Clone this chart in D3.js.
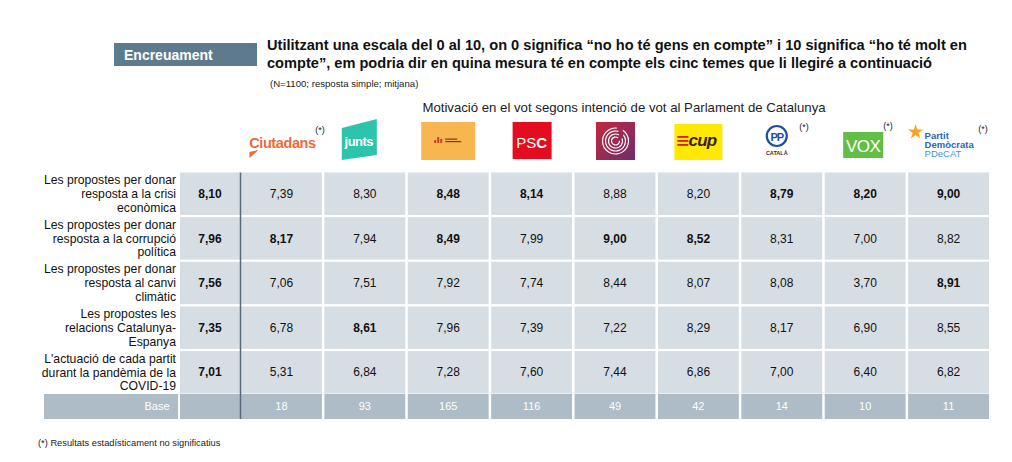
<!DOCTYPE html>
<html>
<head>
<meta charset="utf-8">
<script src="https://cdn.jsdelivr.net/npm/d3@7"></script>
<style>
  html, body { margin: 0; padding: 0; background: #fff; }
  svg { display: block; font-family: "Liberation Sans", Arial, sans-serif; }
</style>
</head>
<body>
<svg id="chart" width="1012" height="462"></svg>
<script>
// ---------- DATA ----------
const parties = ["Ciutadans", "Junts", "ERC", "PSC", "Comuns", "CUP", "PP", "VOX", "PDeCAT"];
const notSignificant = [true, false, false, false, false, false, true, true, true];
const themes = [
  ["Les propostes per donar", "resposta a la crisi", "econòmica"],
  ["Les propostes per donar", "resposta a la corrupció", "política"],
  ["Les propostes per donar", "resposta al canvi", "climàtic"],
  ["Les propostes les", "relacions Catalunya-", "Espanya"],
  ["L'actuació de cada partit", "durant la pandèmia de la", "COVID-19"]
];
const totals = [8.10, 7.96, 7.56, 7.35, 7.01];
const valuesCrisi      = [7.39, 8.30, 8.48, 8.14, 8.88, 8.20, 8.79, 8.20, 9.00];
const valuesCorrupcio  = [8.17, 7.94, 8.49, 7.99, 9.00, 8.52, 8.31, 7.00, 8.82];
const valuesClima      = [7.06, 7.51, 7.92, 7.74, 8.44, 8.07, 8.08, 3.70, 8.91];
const valuesCatEsp     = [6.78, 8.61, 7.96, 7.39, 7.22, 8.29, 8.17, 6.90, 8.55];
const valuesCovid      = [5.31, 6.84, 7.28, 7.60, 7.44, 6.86, 7.00, 6.40, 6.82];
const highlightCrisi     = [0, 0, 1, 1, 0, 0, 1, 1, 1];
const highlightCorrupcio = [1, 0, 1, 0, 1, 1, 0, 0, 0];
const highlightClima     = [0, 0, 0, 0, 0, 0, 0, 0, 1];
const highlightCatEsp    = [0, 1, 0, 0, 0, 0, 0, 0, 0];
const highlightCovid     = [0, 0, 0, 0, 0, 0, 0, 0, 0];
const base = [18, 93, 165, 116, 49, 42, 14, 10, 11];
const baseLabel = "Base";
const sectionLabel = "Encreuament";
const titleLines = [
  "Utilitzant una escala del 0 al 10, on 0 significa “no ho té gens en compte” i 10 significa “ho té molt en",
  "compte”, em podria dir en quina mesura té en compte els cinc temes que li llegiré a continuació"
];
const subtitle = "(N=1100; resposta simple; mitjana)";
const headerLabel = "Motivació en el vot segons intenció de vot al Parlament de Catalunya";
const footnote = "(*) Resultats estadísticament no significatius";

const values = [valuesCrisi, valuesCorrupcio, valuesClima, valuesCatEsp, valuesCovid];
const highlights = [highlightCrisi, highlightCorrupcio, highlightClima, highlightCatEsp, highlightCovid];

// ---------- SETUP ----------
const svg = d3.select("#chart");
const fmt = v => d3.format(".2f")(v).replace(".", ",");

const CELL = "#d6dee3", BASEC = "#adbcc6", DARK = "#56687a";

const x = d3.scaleBand().domain(parties).range([241, 989]).paddingInner(0.03);
const xTotal = d3.scaleBand().domain(["Total"]).range([180, 240]);
const y = d3.scaleBand().domain(d3.range(themes.length)).range([172.5, 393.5]).paddingInner(0.05);
const baseTop = 394, baseBottom = 419;

// ---------- HEADER ----------
svg.append("rect").attr("x", 114).attr("y", 43).attr("width", 143).attr("height", 23).attr("fill", "#5e7b8e");
svg.append("text").attr("x", 124).attr("y", 60).attr("fill", "#fff").attr("font-weight", "bold")
  .attr("font-size", 14).text(sectionLabel);

svg.selectAll("text.title").data(titleLines).join("text").attr("class", "title")
  .attr("x", 267).attr("y", (d, i) => 50 + i * 18)
  .attr("font-size", 14.6).attr("font-weight", "bold").attr("fill", "#111").text(d => d);

svg.append("text").attr("x", 270).attr("y", 87).attr("font-size", 9.6).attr("fill", "#222").text(subtitle);

svg.append("text").attr("x", 624).attr("y", 112).attr("text-anchor", "middle")
  .attr("font-size", 13.2).attr("fill", "#222").text(headerLabel);

// ---------- LOGOS ----------
const logos = svg.append("g");
function logo(name, draw) {
  const g = logos.append("g").attr("transform", `translate(${x(name) + x.bandwidth() / 2},0)`);
  draw(g);
}
logo("Ciutadans", g => {
  g.append("text").attr("x", 1).attr("y", 148).attr("text-anchor", "middle").attr("font-size", 14.5)
    .attr("font-weight", "bold").attr("fill", "#ec6a3a").attr("letter-spacing", -0.4).text("Ciutadans");
  g.append("path").attr("d", "M-32,152 L-23,150 L-32,158 Z").attr("fill", "#ec6a3a");
});
logo("Junts", g => {
  g.append("path").attr("d", "M-23,128 L12,119 L12,155 L-23,160 Z").attr("fill", "#2cc4ad");
  g.append("text").attr("x", -6).attr("y", 146).attr("text-anchor", "middle").attr("font-size", 13)
    .attr("font-weight", "bold").attr("fill", "#fff").attr("letter-spacing", -0.5).text("junts");
});
logo("ERC", g => {
  g.append("rect").attr("x", -27).attr("y", 122).attr("width", 54).attr("height", 38).attr("fill", "#f8b650");
  [[-14, 3], [-11, 6], [-8, 4]].forEach(([dx, h]) =>
    g.append("rect").attr("x", dx).attr("y", 143 - h).attr("width", 2).attr("height", h).attr("fill", "#c8431c"));
  g.append("rect").attr("x", -3).attr("y", 138.5).attr("width", 12).attr("height", 1.2).attr("fill", "#7a3a1c");
  g.append("rect").attr("x", -3).attr("y", 141).attr("width", 16).attr("height", 1.2).attr("fill", "#7a3a1c");
});
logo("PSC", g => {
  g.append("rect").attr("x", -19).attr("y", 122).attr("width", 39).attr("height", 37).attr("fill", "#e30d1f");
  const t = g.append("text").attr("x", 0).attr("y", 148).attr("text-anchor", "middle").attr("font-size", 15).attr("fill", "#fff");
  t.append("tspan").text("PS");
  t.append("tspan").attr("font-weight", "bold").text("C");
});
logo("Comuns", g => {
  const defs = svg.append("defs");
  const lg = defs.append("linearGradient").attr("id", "comunsGrad").attr("x1", 0).attr("y1", 0).attr("x2", 1).attr("y2", 1);
  lg.append("stop").attr("offset", "0%").attr("stop-color", "#c4283a");
  lg.append("stop").attr("offset", "100%").attr("stop-color", "#6e2d6c");
  g.append("rect").attr("x", -19).attr("y", 122).attr("width", 39).attr("height", 38).attr("fill", "url(#comunsGrad)");
  const arc = d3.arc();
  [13, 10, 7, 4].forEach((r, i) => {
    g.append("path").attr("transform", "translate(0.5,141)")
      .attr("d", arc({ innerRadius: r - 0.6, outerRadius: r + 0.6, startAngle: 0.6 + i * 0.3, endAngle: 2 * Math.PI + 0.1 + i * 0.2 }))
      .attr("fill", "#fff");
  });
});
logo("CUP", g => {
  g.append("rect").attr("x", -24).attr("y", 124).attr("width", 48).attr("height", 36).attr("fill", "#ffe900");
  [136, 140, 144].forEach(yy => g.append("rect").attr("x", -21).attr("y", yy).attr("width", 11).attr("height", 1.8).attr("fill", "#d0202a"));
  g.append("text").attr("x", 4).attr("y", 146).attr("text-anchor", "middle").attr("font-size", 17)
    .attr("font-weight", "bold").attr("font-style", "italic").attr("fill", "#3a1f1c").attr("letter-spacing", -0.8).text("cup");
});
logo("PP", g => {
  g.append("circle").attr("cx", -5).attr("cy", 136).attr("r", 10).attr("fill", "#fff").attr("stroke", "#1d4f9b").attr("stroke-width", 2.2);
  g.append("text").attr("x", -5).attr("y", 140.5).attr("text-anchor", "middle").attr("font-size", 11)
    .attr("font-weight", "bold").attr("fill", "#1d4f9b").attr("letter-spacing", -1).text("PP");
  g.append("text").attr("x", -5).attr("y", 155).attr("text-anchor", "middle").attr("font-size", 5.5)
    .attr("font-weight", "bold").attr("fill", "#333").text("CATALÀ");
});
logo("VOX", g => {
  g.append("rect").attr("x", -22).attr("y", 132).attr("width", 40).attr("height", 26).attr("fill", "#63be45");
  g.append("text").attr("x", -2).attr("y", 152).attr("text-anchor", "middle").attr("font-size", 17)
    .attr("fill", "#fff").attr("letter-spacing", -0.5).text("VOX");
});
logo("PDeCAT", g => {
  const star = d3.symbol().type(d3.symbolStar).size(70);
  g.append("path").attr("transform", "translate(-33,132)").attr("d", star()).attr("fill", "#f6a623");
  g.append("text").attr("x", -24).attr("y", 139).attr("font-size", 9.5).attr("font-weight", "bold").attr("fill", "#2a67b5").text("Partit");
  g.append("text").attr("x", -24).attr("y", 148).attr("font-size", 9.5).attr("font-weight", "bold").attr("fill", "#2a67b5").text("Demòcrata");
  g.append("text").attr("x", -24).attr("y", 157).attr("font-size", 9.5).attr("fill", "#4b93d6").text("PDeCAT");
});
// (*) marks
const starX = { Ciutadans: 320, PP: 804, VOX: 888, PDeCAT: 983 };
const starY = { Ciutadans: 133, PP: 130, VOX: 129, PDeCAT: 132 };
svg.selectAll("text.ns").data(parties.filter((p, i) => notSignificant[i])).join("text").attr("class", "ns")
  .attr("x", d => starX[d]).attr("y", d => starY[d]).attr("text-anchor", "middle")
  .attr("font-size", 9).attr("fill", "#222").text("(*)");

// ---------- TABLE ----------
const rowsG = svg.append("g");
themes.forEach((lines, r) => {
  const y0 = y(r), h = y.bandwidth(), cy = y0 + h / 2;
  rowsG.append("rect").attr("x", xTotal("Total")).attr("y", y0).attr("width", xTotal.bandwidth()).attr("height", h).attr("fill", CELL);
  rowsG.append("text").attr("x", xTotal("Total") + xTotal.bandwidth() / 2).attr("y", cy).attr("dy", "0.35em").attr("text-anchor", "middle")
    .attr("font-size", 12).attr("font-weight", "bold").attr("fill", "#111").text(fmt(totals[r]));
  rowsG.selectAll(null).data(parties).join("rect")
    .attr("x", d => x(d)).attr("y", y0).attr("width", x.bandwidth()).attr("height", h).attr("fill", CELL);
  rowsG.selectAll(null).data(parties).join("text")
    .attr("x", d => x(d) + x.bandwidth() / 2).attr("y", cy).attr("dy", "0.35em").attr("text-anchor", "middle")
    .attr("font-size", 12).attr("fill", "#111")
    .attr("font-weight", (d, i) => highlights[r][i] ? "bold" : "normal")
    .text((d, i) => fmt(values[r][i]));
  rowsG.selectAll(null).data(lines).join("text")
    .attr("x", 176).attr("y", (d, i) => cy + (i - 1) * 13.8).attr("dy", "0.35em").attr("text-anchor", "end")
    .attr("font-size", 12.2).attr("fill", "#111").text(d => d);
});

// base row
svg.append("rect").attr("x", 44).attr("y", baseTop).attr("width", 134).attr("height", baseBottom - baseTop).attr("fill", BASEC);
svg.append("rect").attr("x", 180).attr("y", baseTop).attr("width", 60).attr("height", baseBottom - baseTop).attr("fill", BASEC);
svg.append("text").attr("x", 157).attr("y", (baseTop + baseBottom) / 2).attr("dy", "0.35em").attr("text-anchor", "middle")
  .attr("font-size", 11).attr("fill", "#fff").text(baseLabel);
svg.selectAll("rect.base").data(parties).join("rect").attr("class", "base")
  .attr("x", d => x(d)).attr("y", baseTop).attr("width", x.bandwidth()).attr("height", baseBottom - baseTop).attr("fill", BASEC);
svg.selectAll("text.base").data(parties).join("text").attr("class", "base")
  .attr("x", d => x(d) + x.bandwidth() / 2).attr("y", (baseTop + baseBottom) / 2).attr("dy", "0.35em")
  .attr("text-anchor", "middle").attr("font-size", 11).attr("fill", "#fff").text((d, i) => base[i]);

// dark separator after total column
svg.append("line").attr("x1", 240.5).attr("x2", 240.5).attr("y1", 172.5).attr("y2", baseBottom)
  .attr("stroke", DARK).attr("stroke-width", 1.5);

// footnote
svg.append("text").attr("x", 38).attr("y", 446).attr("font-size", 9.3).attr("fill", "#222").text(footnote);
</script>
</body>
</html>
